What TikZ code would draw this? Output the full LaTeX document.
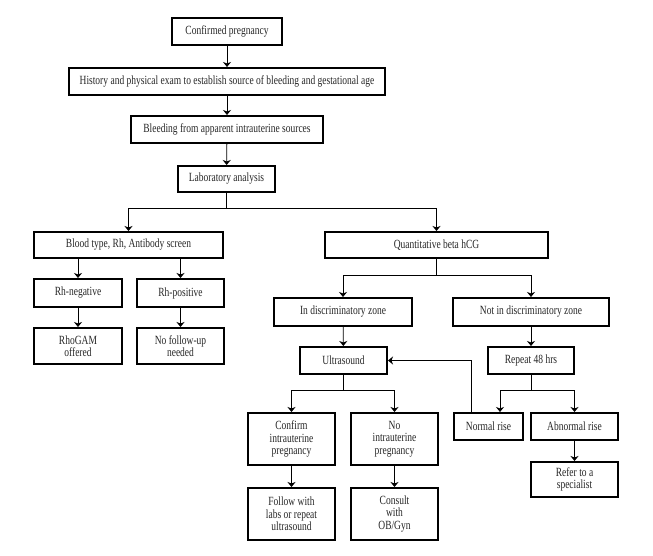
\documentclass[tikz,border=0pt]{standalone}
\usepackage{fontspec}
\setmainfont[FakeStretch=0.76]{Liberation Serif}
\usetikzlibrary{arrows.meta}
\begin{document}
\begin{tikzpicture}[x=1pt,y=-1pt,
  box/.style={draw, line width=2pt, inner sep=0pt, align=center,
    font=\fontsize{12.5}{12.3}\selectfont, text=black!85},
  arr/.style={line width=0.8pt, -{Stealth[length=5pt,width=8pt,inset=1.5pt]}},
  ln/.style={line width=0.8pt}]
\useasboundingbox (0,0) rectangle (653,556);
\node[box, minimum width=110pt, minimum height=27pt] (conf) at (227,31.5) {Confirmed pregnancy};
\node[box, minimum width=316pt, minimum height=27pt] (hist) at (227,81.5) {History and physical exam to establish source of bleeding and gestational age};
\node[box, minimum width=192pt, minimum height=27pt] (bleed) at (227,129.5) {Bleeding from apparent intrauterine sources};
\node[box, minimum width=97pt, minimum height=26pt] (lab) at (226.5,179) {Laboratory analysis};
\node[box, minimum width=189pt, minimum height=26pt] (blood) at (128.5,245) {Blood type, Rh, Antibody screen};
\node[box, minimum width=223pt, minimum height=26pt] (hcg) at (436.5,245) {Quantitative beta hCG};
\node[box, minimum width=88pt, minimum height=28pt] (rhneg) at (78,293) {Rh-negative};
\node[box, minimum width=87pt, minimum height=28pt] (rhpos) at (180.5,293) {Rh-positive};
\node[box, minimum width=88pt, minimum height=36pt] (rhogam) at (78,346) {RhoGAM\\offered};
\node[box, minimum width=87pt, minimum height=36pt] (nofol) at (180.5,346) {No follow-up\\needed};
\node[box, minimum width=138pt, minimum height=28pt] (indz) at (343,312) {In discriminatory zone};
\node[box, minimum width=156pt, minimum height=28pt] (notdz) at (531,312) {Not in discriminatory zone};
\node[box, minimum width=87pt, minimum height=27pt] (ultra) at (343.5,360.5) {Ultrasound};
\node[box, minimum width=86pt, minimum height=27pt] (rep) at (531,360.5) {Repeat 48 hrs};
\node[box, minimum width=87pt, minimum height=52pt] (confirm) at (291.5,439) {Confirm\\intrauterine\\pregnancy};
\node[box, minimum width=87pt, minimum height=52pt] (noiup) at (394.5,439) {No\\intrauterine\\pregnancy};
\node[box, minimum width=69pt, minimum height=27pt] (normal) at (488.5,426.5) {Normal rise};
\node[box, minimum width=87pt, minimum height=27pt] (abn) at (574.5,426.5) {Abnormal rise};
\node[box, minimum width=87pt, minimum height=35pt] (refer) at (574.5,479.5) {Refer to a\\specialist};
\node[box, minimum width=87pt, minimum height=52pt] (follow) at (291.5,514) {Follow with\\labs or repeat\\ultrasound};
\node[box, minimum width=87pt, minimum height=52pt] (consult) at (394.5,514) {Consult\\with\\OB/Gyn};
% connectors
\draw[arr] (conf) -- (hist);
\draw[arr] (hist) -- (bleed);
\draw[arr] (bleed) -- (lab);
\coordinate (s1) at (226.5,208);
\draw[ln] (lab.south) -- (s1);
\draw[arr] (s1) -| (blood.north);
\draw[arr] (s1) -| (hcg.north);
\draw[arr] (rhneg.north |- blood.south) -- (rhneg.north);
\draw[arr] (rhpos.north |- blood.south) -- (rhpos.north);
\draw[arr] (rhneg) -- (rhogam);
\draw[arr] (rhpos) -- (nofol);
\coordinate (s2) at (436.5,275);
\draw[ln] (hcg.south) -- (s2);
\draw[arr] (s2) -| (indz.north);
\draw[arr] (s2) -| (notdz.north);
\draw[arr] (indz) -- (ultra);
\draw[arr] (notdz) -- (rep);
\coordinate (s3) at (343.5,390);
\draw[ln] (ultra.south) -- (s3);
\draw[arr] (s3) -| (confirm.north);
\draw[arr] (s3) -| (noiup.north);
\coordinate (s4) at (531,390);
\draw[ln] (rep.south) -- (s4);
\draw[arr] (s4) -| ([xshift=11.5pt]normal.north);
\draw[arr] (s4) -| (abn.north);
\draw[arr] ([xshift=-17.5pt]normal.north) |- (ultra.east);
\draw[arr] (abn) -- (refer);
\draw[arr] (confirm) -- (follow);
\draw[arr] (noiup) -- (consult);
\end{tikzpicture}
\end{document}
